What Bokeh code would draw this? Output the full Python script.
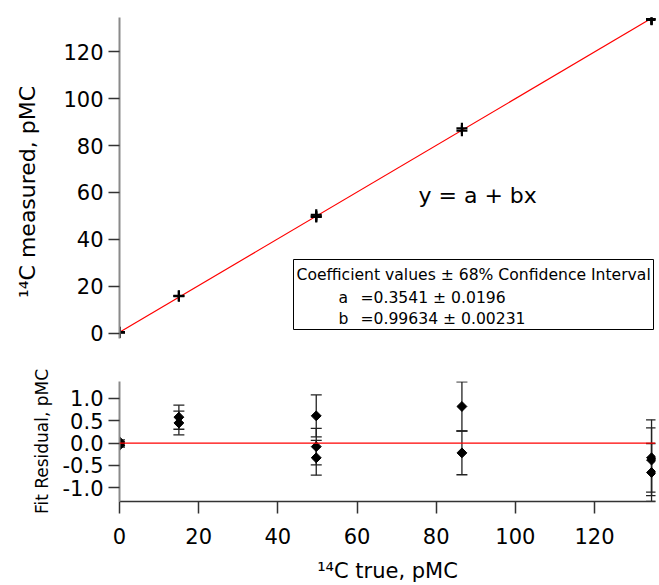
from bokeh.plotting import figure
from bokeh.layouts import column
from bokeh.models import (Range1d, FixedTicker, PrintfTickFormatter, Whisker,
                          ColumnDataSource, Span, Label, BoxAnnotation, TeeHead)
from bokeh.embed import file_html
from bokeh.resources import INLINE

# ---- data ----
x_true = [0.0, 0.0, 0.0, 15.0, 15.0, 49.7, 49.7, 49.7, 86.5, 86.5, 134.4, 134.4, 134.4]
y_meas = [0.38, 0.33, 0.30, 15.88, 15.75, 50.48, 49.79, 49.54, 87.36, 86.32, 133.93, 133.88, 133.60]
resid = [0.03, -0.02, -0.05, 0.58, 0.45, 0.61, -0.08, -0.33, 0.82, -0.22, -0.33, -0.38, -0.66]
resid_err = [0.04, 0.04, 0.04, 0.27, 0.265, 0.47, 0.41, 0.39, 0.55, 0.49, 0.85, 0.72, 0.65]
fit_x = [0.0, 134.4]
fit_y = [0.354, 134.26]
main_ticks = [0, 20, 40, 60, 80, 100, 120]
res_ticks = [-1.0, -0.5, 0.0, 0.5, 1.0]
x_ticks = [0, 20, 40, 60, 80, 100, 120]
coef_header = "Coefficient values ± 68% Confidence Interval"
coef_names = ["a", "b"]
coef_values = ["=0.3541 ± 0.0196", "=0.99634 ± 0.00231"]

FONT = "DejaVu Sans"
TICK_FS = "21px"
NBSP = "\u00a0"

x_range = Range1d(0, 135.4)

src = ColumnDataSource(dict(
    x=x_true, y=y_meas, r=resid,
    lo=[r - e for r, e in zip(resid, resid_err)],
    hi=[r + e for r, e in zip(resid, resid_err)],
))


def style_left_axis(ax, label_fs):
    ax.axis_line_color = "#8a8a8a"
    ax.axis_line_width = 2
    ax.major_tick_line_color = "#333333"
    ax.major_tick_line_width = 1.5
    ax.major_tick_out = 11
    ax.major_tick_in = 0
    ax.minor_tick_line_color = None
    ax.major_label_text_font = FONT
    ax.major_label_text_font_size = TICK_FS
    ax.major_label_text_color = "black"
    ax.major_label_standoff = 5
    ax.axis_label_text_font = FONT
    ax.axis_label_text_font_size = label_fs
    ax.axis_label_text_font_style = "normal"
    ax.axis_label_text_color = "black"


# ---- main plot ----
p1 = figure(width=657, height=353, x_range=x_range, y_range=Range1d(-2.3, 134.6),
            output_backend="svg", toolbar_location=None, x_axis_location=None,
            min_border_left=119, min_border_right=2, min_border_top=17, min_border_bottom=15)
p1.outline_line_color = None
p1.grid.visible = False
p1.yaxis.ticker = FixedTicker(ticks=main_ticks)
p1.yaxis.axis_label = "¹⁴C measured, pMC" + NBSP * 4
style_left_axis(p1.yaxis[0], "22px")
p1.yaxis.axis_label_standoff = 20

p1.line(fit_x, fit_y, line_color="#ff0000", line_width=1.2)
p1.scatter("x", "y", source=src, marker="cross", size=11, line_width=2.2,
           line_color="black")

p1.add_layout(Label(x=299, y=143, x_units="screen", y_units="screen",
                    text="y = a + bx", text_font=FONT, text_font_size="22px",
                    text_baseline="middle", text_color="black"))
p1.add_layout(BoxAnnotation(left=174, right=534, bottom=9, top=79,
                            left_units="screen", right_units="screen",
                            bottom_units="screen", top_units="screen",
                            fill_color="white", fill_alpha=1.0,
                            line_color="black", line_width=1, line_alpha=1.0))
p1.add_layout(Label(x=177, y=64, x_units="screen", y_units="screen",
                    text=coef_header, text_font=FONT, text_font_size="15.6px",
                    text_baseline="middle", text_color="black"))
for i, (nm, val) in enumerate(zip(coef_names, coef_values)):
    yy = 41 - 21 * i
    p1.add_layout(Label(x=219, y=yy, x_units="screen", y_units="screen",
                        text=nm, text_font=FONT, text_font_size="15.6px",
                        text_baseline="middle", text_color="black"))
    p1.add_layout(Label(x=241, y=yy, x_units="screen", y_units="screen",
                        text=val, text_font=FONT, text_font_size="15.6px",
                        text_baseline="middle", text_color="black"))

# ---- residual plot ----
p2 = figure(width=657, height=232, x_range=x_range, y_range=Range1d(-1.31, 1.38),
            output_backend="svg", toolbar_location=None,
            min_border_left=119, min_border_right=2, min_border_top=28, min_border_bottom=4)
p2.outline_line_color = None
p2.grid.visible = False
p2.yaxis.ticker = FixedTicker(ticks=res_ticks)
p2.yaxis.formatter = PrintfTickFormatter(format="%.1f")
p2.yaxis.axis_label = "Fit Residual, pMC"
style_left_axis(p2.yaxis[0], "17px")
p2.yaxis.axis_label_standoff = 8

xa = p2.xaxis[0]
xa.ticker = FixedTicker(ticks=x_ticks)
xa.axis_label = "¹⁴C true, pMC"
xa.axis_line_color = "#333333"
xa.axis_line_width = 1.5
xa.major_tick_line_color = "#333333"
xa.major_tick_line_width = 1.5
xa.major_tick_out = 12
xa.major_tick_in = 0
xa.minor_tick_line_color = None
xa.major_label_text_font = FONT
xa.major_label_text_font_size = TICK_FS
xa.major_label_text_color = "black"
xa.major_label_standoff = 14
xa.axis_label_text_font = FONT
xa.axis_label_text_font_size = "21px"
xa.axis_label_text_font_style = "normal"
xa.axis_label_text_color = "black"
xa.axis_label_standoff = 12

p2.add_layout(Span(location=0, dimension="width", line_color="#ff0000", line_width=1.2))
p2.add_layout(Whisker(source=src, base="x", lower="lo", upper="hi", dimension="height",
                      line_color="#222222", line_width=1.3,
                      upper_head=TeeHead(size=11, line_color="#222222", line_width=1.3),
                      lower_head=TeeHead(size=11, line_color="#222222", line_width=1.3)))
p2.scatter("x", "r", source=src, marker="square", angle=0.785398, size=7,
           fill_color="black", line_color="black")

layout = column(p1, p2, spacing=0)
open("out.html", "w").write(file_html(layout, INLINE))
